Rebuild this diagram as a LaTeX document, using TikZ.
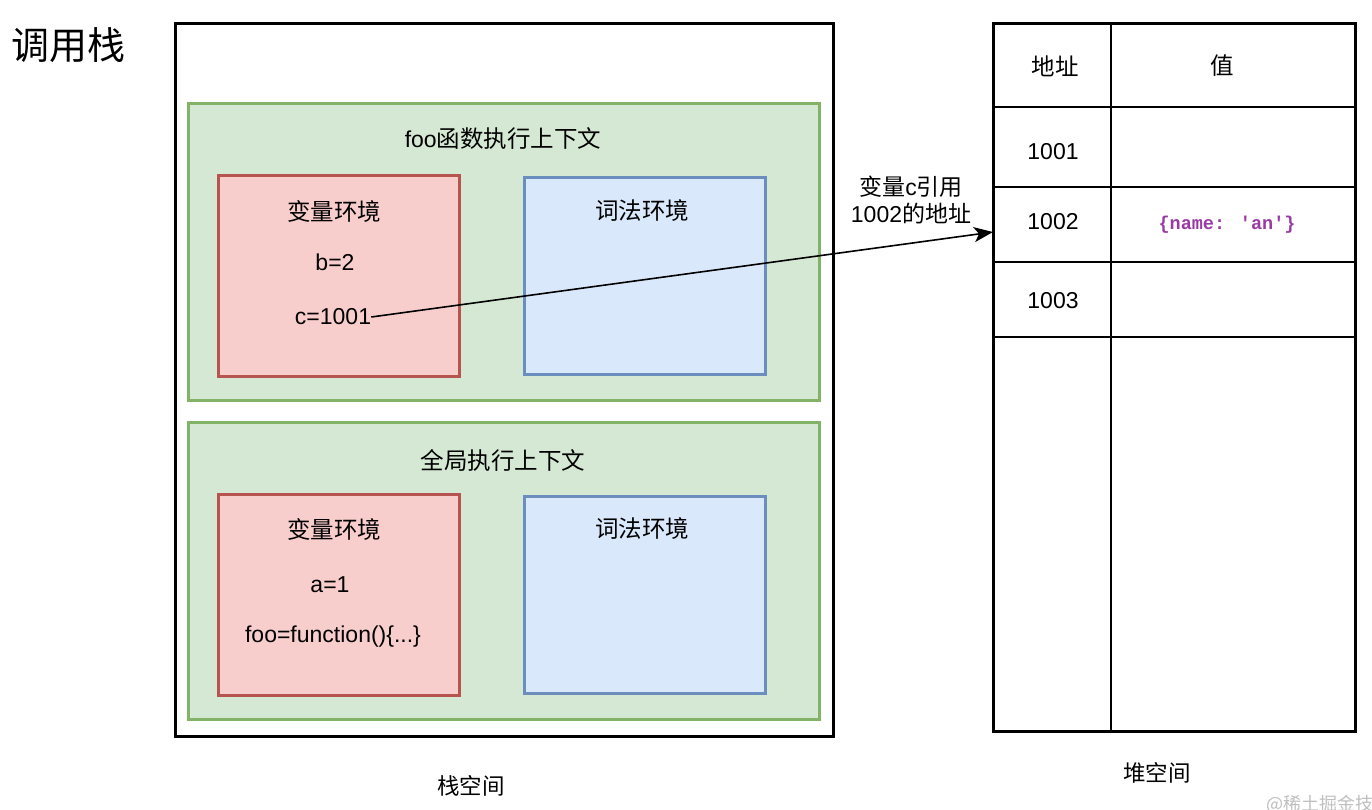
\documentclass[tikz,border=0pt]{standalone}
\usepackage{fontspec}
\setmainfont{Liberation Sans}
\newfontfamily\cjk{Noto Sans CJK SC}
\newfontfamily\monof{Liberation Mono}
\usetikzlibrary{arrows.meta}
\definecolor{gfill}{HTML}{D5E8D4}
\definecolor{gline}{HTML}{82B366}
\definecolor{rfill}{HTML}{F8CECC}
\definecolor{rline}{HTML}{B85450}
\definecolor{bfill}{HTML}{DAE8FC}
\definecolor{bline}{HTML}{6C8EBF}
\definecolor{purp}{HTML}{9A3AA4}
\begin{document}
\begin{tikzpicture}[x=1pt,y=-1pt,
  box/.style={rectangle,inner sep=0pt,line width=3pt},
  outerbox/.style={box,draw=black},
  ctxbox/.style={box,draw=gline,fill=gfill,minimum width=631pt,minimum height=297pt},
  varbox/.style={box,draw=rline,fill=rfill,minimum width=241pt,minimum height=201pt},
  lexbox/.style={box,draw=bline,fill=bfill,minimum width=241pt,minimum height=197pt},
  txt/.style={inner sep=0pt,font=\fontsize{23}{27}\selectfont},
  ctxt/.style={inner sep=0pt,font=\fontsize{23.5}{27}\selectfont\cjk},
  tline/.style={line width=2.2pt}
]
\useasboundingbox[fill=white] (0,0) rectangle (1372,809);

% title
\node[inner sep=0pt,font=\fontsize{38}{42}\selectfont\cjk] (title) at (68,45) {调用栈};

% stack space
\node[outerbox,minimum width=658pt,minimum height=713pt] (stack) at (504,379.5) {};

% foo context
\node[ctxbox] (g1) at (503.5,251.5) {};
\node[txt] (g1t) at (503,139) {foo{\cjk\fontsize{23.5}{27}\selectfont 函数执行上下文}};
\node[varbox] (v1) at (338.5,275.5) {};
\node[ctxt] (v1t) at (334,211) {变量环境};
\node[txt] (v1b) at (335,262) {b=2};
\node[txt] (v1c) at (333,317) {c=1001};
\node[lexbox] (l1) at (644.5,275.5) {};
\node[ctxt] (l1t) at (642,211) {词法环境};

% global context
\node[ctxbox] (g2) at (503.5,571) {};
\node[ctxt] (g2t) at (503,460) {全局执行上下文};
\node[varbox] (v2) at (338.5,594.5) {};
\node[ctxt] (v2t) at (334,529) {变量环境};
\node[txt] (v2a) at (330,585) {a=1};
\node[txt] (v2f) at (333,637) {foo=function()\{...\}};
\node[lexbox] (l2) at (644.5,595) {};
\node[ctxt] (l2t) at (642,529) {词法环境};

\node[ctxt,font=\fontsize{22.5}{26}\selectfont\cjk] (stackl) at (471,786) {栈空间};

% heap table
\node[outerbox,minimum width=362pt,minimum height=708pt] (heap) at (1174,377) {};
\draw[tline] (1111,23) -- (1111,731);
\draw[tline] (993,107) -- (1355,107);
\draw[tline] (993,187) -- (1355,187);
\draw[tline] (993,262) -- (1355,262);
\draw[tline] (993,337) -- (1355,337);
\node[ctxt] (h1) at (1055,66) {地址};
\node[ctxt] (h2) at (1222,66) {值};
\node[txt] (r1) at (1053,152) {1001};
\node[txt] (r2) at (1053,222) {1002};
\node[txt] (r3) at (1053,301) {1003};
\node[txt,font=\fontsize{18.5}{22}\selectfont\monof\bfseries,text=purp] (val) at (1227,225) {\{name: 'an'\}};

\node[ctxt,font=\fontsize{22.5}{26}\selectfont\cjk] (heapl) at (1157,773) {堆空间};

% arrow
\coordinate (tgt) at (993,232);
\draw[line width=1.6pt,-{Stealth[length=19pt,width=15pt,inset=5pt]}] (v1c.east) -- (tgt);
\node[txt,align=center] (lbl) at (911,200) {{\cjk 变量}c{\cjk 引用}\\1002{\cjk 的地址}};

% watermark (cut off at the edge, as in the reference)
\node[inner sep=0pt,anchor=north west,text=black!25,font=\fontsize{18}{20}\selectfont\cjk] (wm) at (1266,795) {@稀土掘金技术社区};
\end{tikzpicture}
\end{document}
